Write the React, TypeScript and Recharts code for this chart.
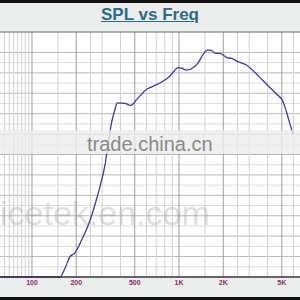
import React from 'react';
import { LineChart, Line, XAxis, YAxis, ReferenceLine } from 'recharts';

// response curve (level in grid divisions above the floor)
const freqs = [61, 155, 168, 181, 196, 218, 242, 268, 290, 314, 329, 348, 367, 380, 429, 469, 516, 603, 635, 782, 869, 989, 1043, 1128, 1251, 1353, 1463, 1558, 1643, 1758, 1901, 2111, 2283, 2532, 2888, 3289, 3746, 4272, 4619, 5075, 5403, 5689, 6010];
const spl = [0, 0, 0.88, 1.97, 2.36, 3.64, 5.11, 7.08, 8.85, 11.0, 12.98, 15.14, 16.42, 17.06, 17.01, 16.81, 17.4, 18.39, 18.55, 19.2, 19.7, 20.52, 20.45, 20.26, 20.52, 21.01, 21.83, 22.22, 22.22, 21.93, 21.9, 21.5, 21.41, 21.07, 20.75, 20.03, 19.2, 18.39, 17.9, 17.24, 16.1, 14.95, 13.96];

const tickFreqs = [100, 200, 500, 1000, 2000, 5000];
const tickLabels = ['100', '200', '500', '1K', '2K', '5K'];
const minorFreqs = [65, 70, 75, 80, 85, 90, 95, 150, 250, 300, 400, 600, 700, 800, 900, 1500, 2500, 3000, 4000, 6000];
const majorLevels = [2, 4, 6, 8, 10, 12, 14, 16, 18, 20, 22];
const minorLevels = [1, 3, 5, 7, 9, 11, 13, 15, 17, 19, 21];

const data = freqs.map((f, i) => ({ f, v: spl[i] }));

const App = () => {
  return (
    <div style={{ position: 'fixed', top: 0, left: 0, width: 300, height: 300, background: '#eceeee', overflow: 'hidden', fontFamily: '"Liberation Sans", Arial, sans-serif' }}>
      <div style={{ position: 'absolute', top: 0, left: 0, width: 300, height: 3, background: '#111' }} />
      <div style={{ position: 'absolute', top: 5, left: 0, width: 300, textAlign: 'center', fontSize: 17, lineHeight: '20px', fontWeight: 'bold', color: '#2b6d85', textDecoration: 'underline' }}>
        SPL vs Freq
      </div>
      <div style={{ position: 'absolute', top: 32, left: 0, width: 300, height: 245, background: '#fff' }} />
      <div style={{ position: 'absolute', top: 0, left: 0 }}>
        <LineChart width={300} height={300} data={data} margin={{ top: 32, right: 0, bottom: 0, left: 0 }}>
          <XAxis
            dataKey="f"
            type="number"
            scale="log"
            domain={[60.6, 6650]}
            allowDataOverflow
            ticks={tickFreqs}
            tickFormatter={(v) => tickLabels[tickFreqs.indexOf(v)]}
            height={23}
            tickSize={0}
            tickMargin={3}
            tickLine={false}
            axisLine={{ stroke: '#333', strokeWidth: 1.5 }}
            tick={{ fill: '#8e2a6a', fontSize: 7, fontWeight: 'bold' }}
          />
          <YAxis type="number" domain={[0, 24]} hide width={0} />
          {minorLevels.map((v) => (
            <ReferenceLine key={'ym' + v} y={v} stroke="#dcdcdc" />
          ))}
          {majorLevels.map((v) => (
            <ReferenceLine key={'yM' + v} y={v} stroke="#b8b8b8" />
          ))}
          {minorFreqs.map((f) => (
            <ReferenceLine key={'xm' + f} x={f} stroke="#d2d2d2" />
          ))}
          {tickFreqs.map((f) => (
            <ReferenceLine key={'xM' + f} x={f} stroke="#a0a0a0" />
          ))}
          <ReferenceLine y={24} stroke="#666" />
          <Line type="monotone" dataKey="v" stroke="#3a3aa0" strokeWidth={1.3} dot={false} isAnimationActive={false} />
        </LineChart>
      </div>
      <div style={{ position: 'absolute', top: 130, left: 0, width: 300, height: 24, background: 'rgba(236,236,236,0.8)' }} />
      <div style={{ position: 'absolute', top: 134, left: 87, fontSize: 20, lineHeight: '20px', color: '#8a8a8a' }}>trade.china.cn</div>
      <div style={{ position: 'absolute', top: 196, left: 0, fontSize: 34, lineHeight: '34px', color: 'rgba(140,140,140,0.28)', whiteSpace: 'nowrap' }}>icetek.en.com</div>
      <div style={{ position: 'absolute', top: 297, left: 0, width: 300, height: 3, background: '#111' }} />
    </div>
  );
};

export default App;
